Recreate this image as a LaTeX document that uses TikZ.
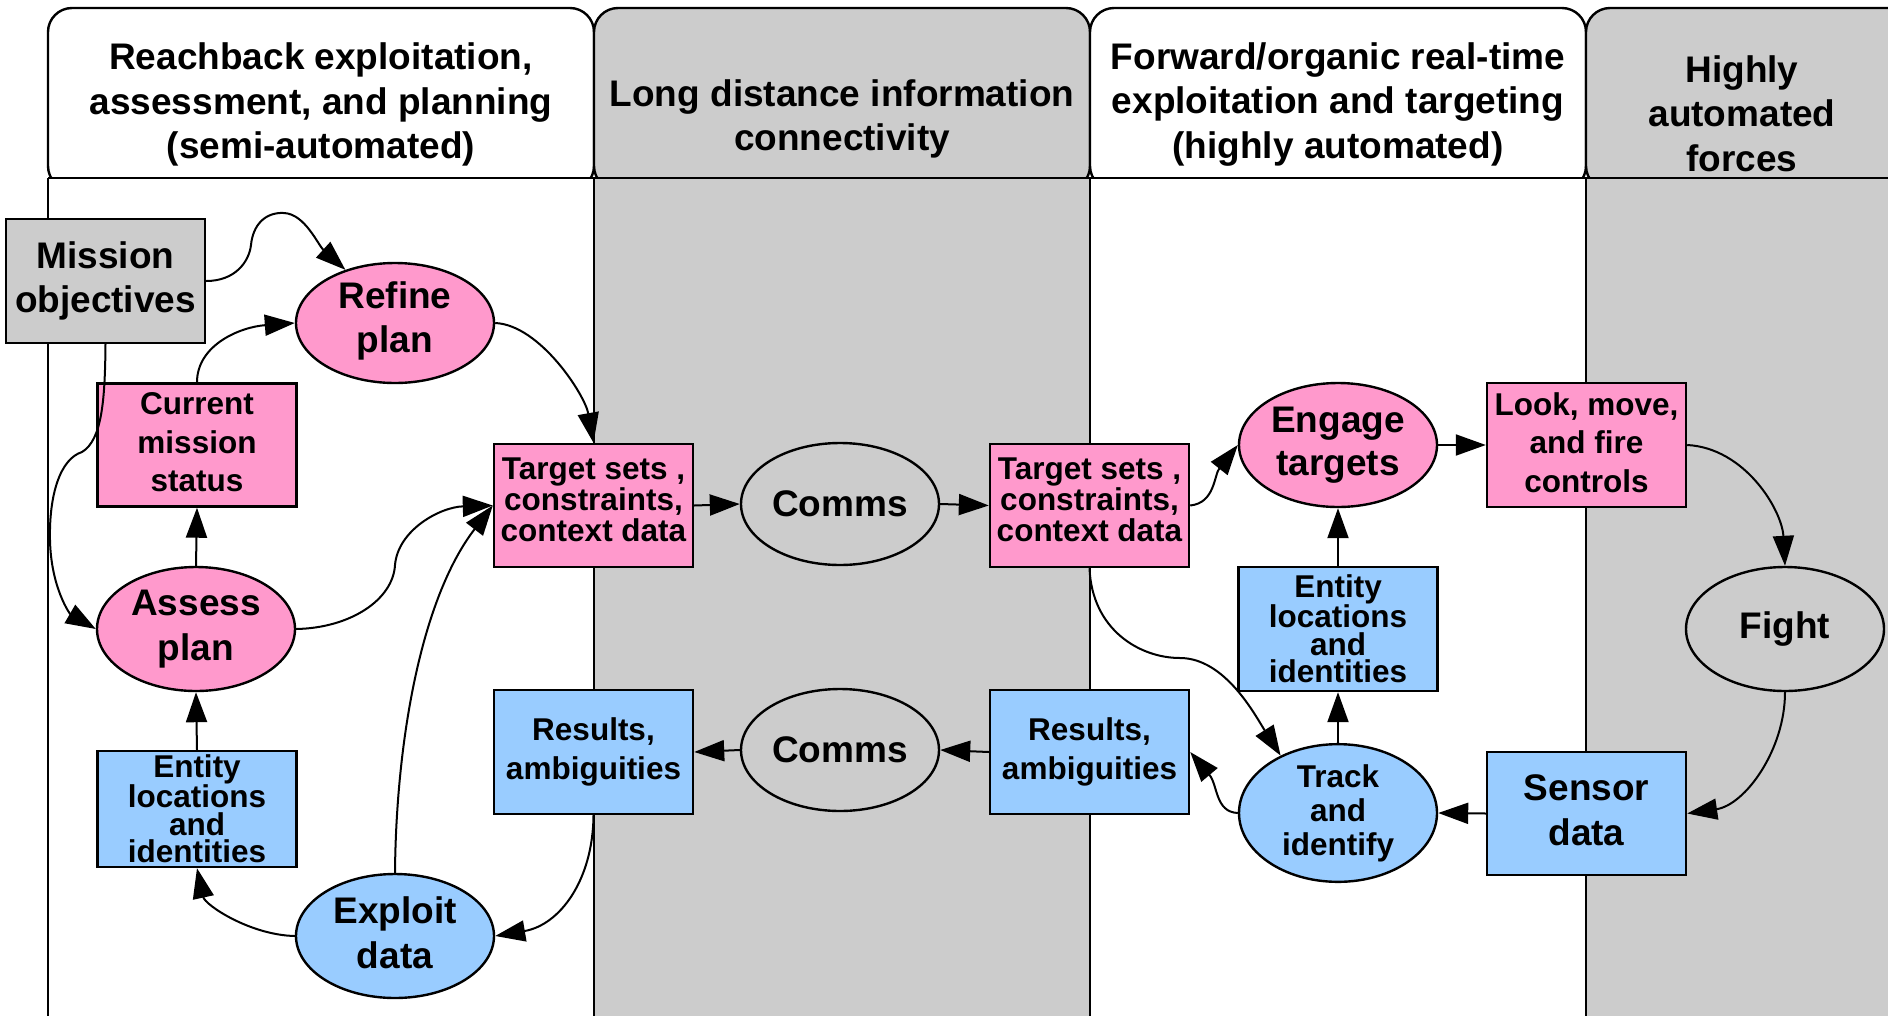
\documentclass[tikz,border=0pt]{standalone}
\usepackage{fontspec}
\setmainfont{Liberation Sans}
\usetikzlibrary{arrows.meta,shapes.geometric}
\definecolor{pinkfill}{HTML}{FF99CC}
\definecolor{bluefill}{HTML}{99CCFF}
\definecolor{greyfill}{HTML}{CCCCCC}

\begin{document}
\begin{tikzpicture}[x=1pt,y=-1pt,
  base/.style={draw=black, line width=2.4pt, inner sep=0pt, align=center,
    font=\bfseries\fontsize{37}{44.5}\selectfont},
  box/.style={base, rectangle, minimum width=199pt, minimum height=123pt},
  oval/.style={base, ellipse, minimum width=198pt, minimum height=123pt},
  small/.style={font=\bfseries\fontsize{31.5}{38.5}\selectfont},
  tight/.style={font=\bfseries\fontsize{31.5}{27.5}\selectfont},
  mid/.style={font=\bfseries\fontsize{31.5}{31}\selectfont},
  pinkn/.style={fill=pinkfill},
  bluen/.style={fill=bluefill},
  greyn/.style={fill=greyfill},
  conn/.style={draw=black, line width=2pt, -{Triangle[length=30pt,width=21pt]}},
  header/.style={draw=black, line width=2.4pt, rounded corners=24pt},
  headtext/.style={align=center, font=\bfseries\fontsize{37}{44.5}\selectfont},
  laneline/.style={draw=black, line width=2.4pt}
]
\useasboundingbox (0,0) rectangle (1888,1015);

% swim lanes
\begin{scope}
  \clip (0,0) rectangle (1888,1015);
  \draw[header, fill=white]    (48,8)   rectangle (594,190);
  \draw[header, fill=greyfill] (594,8)  rectangle (1090,190);
  \draw[header, fill=white]    (1090,8) rectangle (1586,190);
  \draw[header, fill=greyfill] (1586,8) rectangle (2082,190);
  \fill[white]    (48,178)   rectangle (594,1030);
  \fill[greyfill] (594,178)  rectangle (1090,1030);
  \fill[white]    (1090,178) rectangle (1586,1030);
  \fill[greyfill] (1586,178) rectangle (1900,1030);
  \draw[laneline] (48,178) -- (1900,178);
  \foreach \x in {48,594,1090,1586}
    \draw[laneline] (\x,178) -- (\x,1030);
\end{scope}

\node[headtext] (h1) at (321,104.5) {Reachback exploitation,\\assessment, and planning\\(semi-automated)};
\node[headtext] (h2) at (842,119) {Long distance information\\connectivity};
\node[headtext] (h3) at (1338,104.5) {Forward/organic real-time\\exploitation and targeting\\(highly automated)};
\node[headtext] (h4) at (1742,113.5) {Highly\\automated\\forces};

% reachback nodes
\node[box, greyn, minimum height=124pt] (mission) at (105.5,281) {Mission\\objectives};
\node[oval, pinkn, minimum height=120pt, text depth=11.5pt] (refine) at (395,323) {Refine\\plan};
\node[box, pinkn, small, text depth=6pt] (current) at (197,445) {Current\\mission\\status};
\node[oval, pinkn, minimum height=124pt] (assess) at (196,629) {Assess\\plan};
\node[box, bluen, tight, minimum height=116pt] (entL) at (197,809) {Entity\\locations\\and\\identities};
\node[oval, bluen, minimum height=124pt, text depth=7pt] (exploit) at (395,936) {Exploit\\data};
\node[box, pinkn, mid, text depth=12pt] (tgtL) at (593.5,505.5) {Target sets ,\\constraints,\\context data};
\node[box, bluen, small, minimum height=124pt] (resL) at (593.5,752) {Results,\\ambiguities};

% long distance nodes
\node[oval, greyn, minimum height=122pt] (comms1) at (840,504) {Comms};
\node[oval, greyn, minimum height=122pt] (comms2) at (840,750) {Comms};

% forward nodes
\node[box, pinkn, mid, text depth=12pt] (tgtR) at (1089.5,505.5) {Target sets ,\\constraints,\\context data};
\node[box, bluen, small, minimum height=124pt] (resR) at (1089.5,752) {Results,\\ambiguities};
\node[oval, pinkn, minimum height=124pt, font=\bfseries\fontsize{37}{43}\selectfont] (engage) at (1338,445) {Engage\\targets};
\node[box, bluen, tight, minimum height=124pt] (entR) at (1338,629) {Entity\\locations\\and\\identities};
\node[oval, bluen, minimum height=124pt, font=\bfseries\fontsize{31.5}{34}\selectfont] (track) at (1338,813) {Track\\and\\identify};

% forces nodes
\node[box, pinkn, small, minimum height=124pt, text depth=5pt] (look) at (1586.5,445) {Look, move,\\and fire\\controls};
\node[oval, greyn, minimum height=124pt] (fight) at (1785,629) {Fight};
\node[box, bluen, minimum height=123pt, text depth=7pt] (sensor) at (1586.5,813.5) {Sensor\\data};

% connectors
\draw[conn] (mission.east) .. controls (235,281) and (249,262) .. (251,245)
  .. controls (253,225) and (265,212) .. (284,213)
  .. controls (305,214) and (318,245) .. (refine.133);
\draw[conn] (mission.south) .. controls (105,400) and (102,440) .. (82,452)
  .. controls (60,459) and (49,495) .. (50,540)
  .. controls (51,588) and (70,614) .. (assess.west);
\draw[conn] (assess.north) -- (current.south);
\draw[conn] (current.north) .. controls (197,345) and (240,327) .. (refine.west);
\draw[conn] (refine.east) .. controls (540,325) and (585,395) .. (tgtL.north);
\draw[conn] (assess.east) .. controls (350,628) and (393,600) .. (395,565)
  .. controls (398,530) and (440,507) .. (tgtL.west);
\draw[conn] (exploit.north) .. controls (396,745) and (420,600) .. (tgtL.west);
\draw[conn] (exploit.west) .. controls (250,935) and (205,905) .. (entL.south);
\draw[conn] (entL.north) -- (assess.south);
\draw[conn] (resL.south) .. controls (593,880) and (560,925) .. (exploit.east);
\draw[conn] (tgtL.east) -- (comms1.west);
\draw[conn] (comms1.east) -- (tgtR.west);
\draw[conn] (tgtR.east) .. controls (1215,503) and (1214,475) .. (engage.west);
\draw[conn] (engage.east) -- (look.west);
\draw[conn] (look.east) .. controls (1745,448) and (1782,510) .. (fight.north);
\draw[conn] (fight.south) .. controls (1785,750) and (1745,805) .. (sensor.east);
\draw[conn] (sensor.west) -- (track.east);
\draw[conn] (track.north) -- (entR.south);
\draw[conn] (entR.north) -- (engage.south);
\draw[conn] (tgtR.south) .. controls (1092,630) and (1140,658) .. (1180,658)
  .. controls (1225,658) and (1255,715) .. (track.135);
\draw[conn] (track.west) .. controls (1215,812) and (1218,785) .. (resR.east);
\draw[conn] (resR.west) -- (comms2.east);
\draw[conn] (comms2.west) -- (resL.east);
\end{tikzpicture}
\end{document}
